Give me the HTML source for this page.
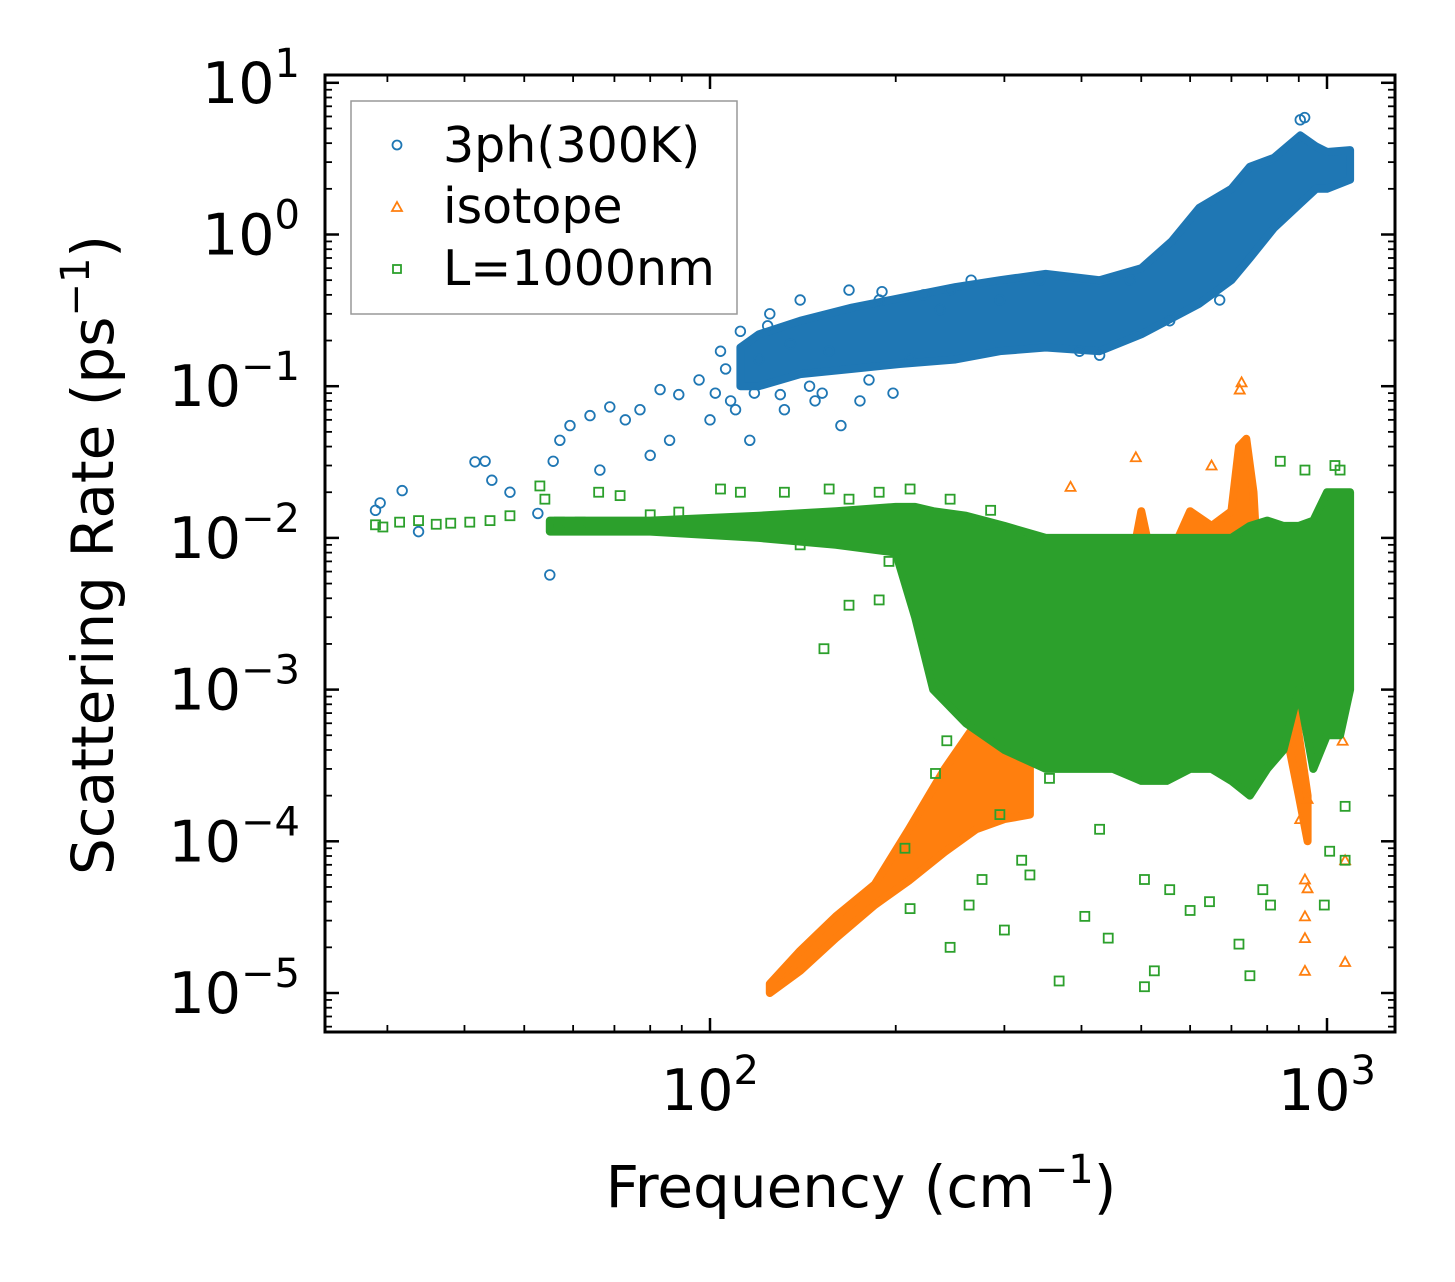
<!DOCTYPE html>
<html><head><meta charset="utf-8"><style>
html,body{margin:0;padding:0;background:#fff;}
svg{display:block;font-family:"DejaVu Sans","Liberation Sans",sans-serif;}
</style></head><body>
<svg id="chart" width="1455" height="1282" viewBox="0 0 1455 1282" xmlns="http://www.w3.org/2000/svg">
<rect width="1455" height="1282" fill="#fff"/>
<g id="marks"></g>
<g id="axes"></g>
<g id="legend">
<rect x="351" y="101" width="386" height="213" fill="#fff" fill-opacity="0.8" stroke="#999" stroke-width="1.5"/>
<circle cx="397" cy="145" r="4.5" fill="none" stroke="#1f77b4" stroke-width="1.8"/>
<text x="443" y="162" font-size="49" fill="#000">3ph(300K)</text>
<path d="M397,202 L402,211 L392,211 Z" fill="none" stroke="#ff7f0e" stroke-width="1.8"/>
<text x="443" y="223" font-size="49" fill="#000">isotope</text>
<rect x="393" y="265" width="8" height="8" fill="none" stroke="#2ca02c" stroke-width="1.8"/>
<text x="443" y="285" font-size="49" fill="#000">L=1000nm</text>
</g>
<text x="861" y="1207" font-size="58" text-anchor="middle">Frequency (cm<tspan font-size="40" dy="-24">−1</tspan><tspan dy="24">)</tspan></text>
<text transform="translate(113,555) rotate(-90)" font-size="58" text-anchor="middle">Scattering Rate (ps<tspan font-size="40" dy="-24">−1</tspan><tspan dy="24">)</tspan></text>
</svg>
<script>
// ---- data ----
const blueBandF  = [112,120,140,170,203,250,295,350,428,500,560,621,700,750,820,905,960,1000,1090];
const blueBandLo = [0.1,0.1,0.12,0.13,0.14,0.15,0.17,0.18,0.17,0.22,0.28,0.35,0.5,0.7,1.1,1.6,2.0,2.0,2.3];
const blueBandHi = [0.18,0.22,0.27,0.33,0.38,0.45,0.5,0.55,0.5,0.6,0.9,1.5,2.0,2.8,3.2,4.5,3.8,3.5,3.6];
const blueF = [28.7,29.2,31.7,33.7,41.6,43.2,44.3,47.4,52.6,55,55.7,57.1,59.3,63.9,66.3,68.8,72.9,77,80,83,86,89,96,100,104,108,112,116,120,125,130,135,140,148,156,163,168,181,188,211,236,265,295,342,397,428,480,556,670,905,920,102,106,110,118,124,132,145,152,175,190,198,222,245];
const blueR = [0.0152,0.017,0.0205,0.011,0.0317,0.032,0.024,0.02,0.0145,0.0057,0.032,0.044,0.055,0.064,0.028,0.073,0.06,0.07,0.035,0.095,0.044,0.088,0.11,0.06,0.17,0.08,0.23,0.044,0.15,0.3,0.088,0.19,0.37,0.08,0.17,0.055,0.43,0.11,0.37,0.15,0.32,0.5,0.37,0.5,0.17,0.16,0.5,0.27,0.37,5.7,5.9,0.09,0.13,0.07,0.09,0.25,0.07,0.1,0.09,0.08,0.42,0.09,0.4,0.43];

const isoBandF  = [125,140,160,185,210,240,270,300,330];
const isoBandLo = [1e-5,1.4e-5,2.3e-5,3.8e-5,5.5e-5,8.5e-5,1.2e-4,1.4e-4,1.5e-4];
const isoBandHi = [1.15e-5,1.9e-5,3.2e-5,5.2e-5,1.2e-4,3e-4,6e-4,9e-4,1e-3];
const isoSpikeF  = [420,470,500,530,560,600,650,700,720,740,760,780,820,870,900,930];
const isoSpikeLo = [5e-4,5e-4,5e-4,5e-4,5e-4,5e-4,5e-4,5e-4,5e-4,5e-4,5e-4,5e-4,5e-4,4e-4,2e-4,1e-4];
const isoSpikeHi = [1e-3,4e-3,1.5e-2,5e-3,8e-3,1.5e-2,1.2e-2,1.5e-2,4e-2,4.5e-2,2e-2,3e-3,2e-3,1.5e-3,5e-4,2e-4];
const isoF = [727,722,490,384,650,921,921,921,921,930,1070,1070,1060,905,930];
const isoR = [0.106,0.095,0.034,0.0217,0.030,5.6e-5,3.2e-5,2.3e-5,1.4e-5,4.9e-5,1.6e-5,7.5e-5,4.6e-4,1.4e-4,1.9e-4];

const grnBandF  = [55,80,120,160,200,215,230,260,300,350,400,450,500,550,600,650,700,750,800,850,900,950,1000,1050,1090];
const grnBandLo = [0.011,0.011,0.01,0.009,0.008,0.003,1e-3,6e-4,4e-4,3e-4,3e-4,3e-4,2.5e-4,2.5e-4,3e-4,3e-4,2.5e-4,2e-4,3e-4,4e-4,1e-3,3e-4,5e-4,5e-4,1e-3];
const grnBandHi = [0.013,0.013,0.014,0.015,0.016,0.016,0.015,0.014,0.012,0.01,0.01,0.01,0.01,0.01,0.01,0.01,0.01,0.012,0.013,0.012,0.012,0.013,0.02,0.02,0.02];
const grnF = [153,168,211,207,245,263,276,300,330,368,405,428,442,506,506,525,556,600,645,720,750,787,810,990,1010,1070,1070,840,921,1030,1050,232,242,188,195,295,320,355,28.7,29.5,31.4,33.7,40.8,44,47.4,53,54,57,61.6,66,71.5,80,89,104,112,120,132,140,156,168,188,211,245,285,330,38,36];
const grnR = [1.86e-3,3.6e-3,3.6e-5,9e-5,2e-5,3.8e-5,5.6e-5,2.6e-5,6e-5,1.2e-5,3.2e-5,1.2e-4,2.3e-5,5.6e-5,1.1e-5,1.4e-5,4.8e-5,3.5e-5,4e-5,2.1e-5,1.3e-5,4.8e-5,3.8e-5,3.8e-5,8.6e-5,1.7e-4,7.5e-5,0.032,0.028,0.03,0.028,2.8e-4,4.6e-4,3.9e-3,7e-3,1.5e-4,7.5e-5,2.6e-4,0.0122,0.0118,0.0127,0.013,0.0127,0.013,0.014,0.022,0.018,0.0127,0.0127,0.02,0.019,0.0142,0.0148,0.021,0.02,0.013,0.02,0.009,0.021,0.018,0.02,0.021,0.018,0.0152,0.0098,0.0125,0.0123];

const xTickVals = [100,1000];
const xTickLabels = ["2","3"];
const yTickVals = [10,1,0.1,0.01,0.001,1e-4,1e-5];
const yTickLabels = ["1","0","−1","−2","−3","−4","−5"];

// ---- axes ----
const L=325,R=1395,T=75,B=1032;
const X = f => 710 + (Math.log10(f)-2)*617;
const Y = r => 234.5 - Math.log10(r)*151.7;
const NS="http://www.w3.org/2000/svg";
const marks=document.getElementById('marks'), axes=document.getElementById('axes');
function mk(tag,attrs,parent){const e=document.createElementNS(NS,tag);for(const k in attrs)e.setAttribute(k,attrs[k]);parent.appendChild(e);return e;}

function band(F,Lo,Hi,color,name){
  let d='M'+F.map((f,i)=>X(f).toFixed(1)+','+Y(Hi[i]).toFixed(1)).join(' L');
  d+=' L'+F.slice().reverse().map((f,j)=>{const i=F.length-1-j;return X(f).toFixed(1)+','+Y(Lo[i]).toFixed(1);}).join(' L')+' Z';
  const p=mk('path',{d:d,fill:color,stroke:color,'stroke-width':8,'stroke-linejoin':'round'},marks);
  
  
}
function circ(F,Rr,color){F.forEach((f,i)=>{const c=mk('circle',{cx:X(f),cy:Y(Rr[i]),r:4.8,fill:'none',stroke:color,'stroke-width':1.8},marks);
  
  });}
function tri(F,Rr,color){F.forEach((f,i)=>{const x=X(f),y=Y(Rr[i]);const p=mk('path',{d:`M${x},${y-5} L${x+5},${y+4} L${x-5},${y+4} Z`,fill:'none',stroke:color,'stroke-width':1.8},marks);
  
  });}
function sq(F,Rr,color){F.forEach((f,i)=>{const s=mk('rect',{x:X(f)-4.5,y:Y(Rr[i])-4.5,width:9,height:9,fill:'none',stroke:color,'stroke-width':1.8},marks);
  
  });}

band(blueBandF,blueBandLo,blueBandHi,'#1f77b4','3ph-dense-band');
circ(blueF,blueR,'#1f77b4');
band(isoBandF,isoBandLo,isoBandHi,'#ff7f0e','isotope-dense-band');
band(isoSpikeF,isoSpikeLo,isoSpikeHi,'#ff7f0e','isotope-spikes');
tri(isoF,isoR,'#ff7f0e');
band(grnBandF,grnBandLo,grnBandHi,'#2ca02c','boundary-dense-band');
sq(grnF,grnR,'#2ca02c');

// frame
const fr=mk('rect',{x:L,y:T,width:R-L,height:B-T,fill:'none',stroke:'#000','stroke-width':3},axes);


for(let e=-6;e<=1;e++){for(let m=1;m<10;m++){const v=m*Math.pow(10,e);const y=Y(v);if(y<T||y>B)continue;const len=m===1?14:7;const w=m===1?2.5:1.8;
  mk('line',{x1:L,y1:y,x2:L+len,y2:y,stroke:'#000','stroke-width':w},axes);
  mk('line',{x1:R,y1:y,x2:R-len,y2:y,stroke:'#000','stroke-width':w},axes);}}
for(let e=1;e<=3;e++){for(let m=1;m<10;m++){const v=m*Math.pow(10,e);const x=X(v);if(x<L||x>R)continue;const len=m===1?14:7;const w=m===1?2.5:1.8;
  mk('line',{x1:x,y1:B,x2:x,y2:B-len,stroke:'#000','stroke-width':w},axes);
  mk('line',{x1:x,y1:T,x2:x,y2:T+len,stroke:'#000','stroke-width':w},axes);}}
yTickVals.forEach((v,i)=>{const y=Y(v);const t=mk('text',{x:300,y:y+20,'font-size':57,'text-anchor':'end'},axes);
  
  
  t.appendChild(document.createTextNode('10'));const s=mk('tspan',{'font-size':40,dy:-26},t);s.textContent=yTickLabels[i];});
xTickVals.forEach((v,i)=>{const x=X(v);const t=mk('text',{x:x,y:1110,'font-size':57,'text-anchor':'middle'},axes);
  
  
  t.appendChild(document.createTextNode('10'));const s=mk('tspan',{'font-size':40,dy:-26},t);s.textContent=xTickLabels[i];});
</script>
</body></html>
